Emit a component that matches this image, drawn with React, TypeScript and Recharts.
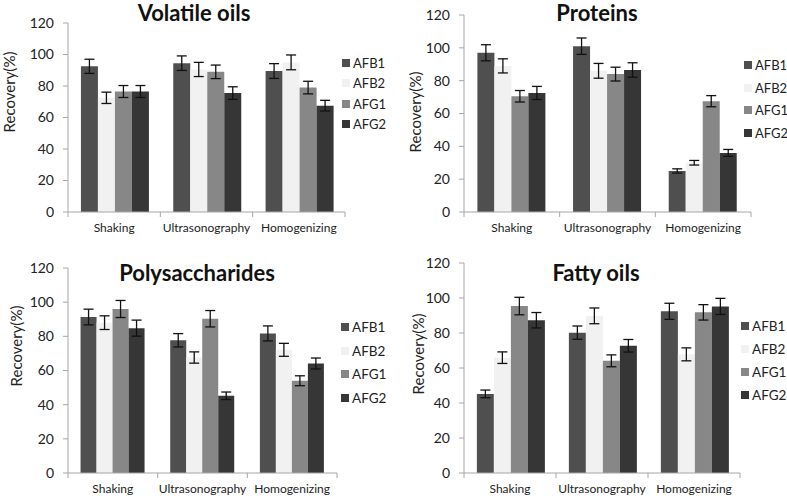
import { BarChart, Bar, XAxis, YAxis, ErrorBar } from 'recharts'

const methods = ['Shaking', 'Ultrasonography', 'Homogenizing']
const series = ['AFB1', 'AFB2', 'AFG1', 'AFG2']
const colors = ['#4f4f4f', '#f1f1f1', '#878787', '#363636']
const yTicks = [0, 20, 40, 60, 80, 100, 120]

// rows = method, columns = AFB1, AFB2, AFG1, AFG2
const volatileMeans = [[92.5, 72.5, 76.5, 76.5], [94.5, 90.5, 89, 75.5], [89.5, 95, 79, 67.5]]
const volatileErr = [[4.5, 3.6, 3.8, 3.8], [4.6, 4.5, 4.3, 4], [4.7, 4.7, 4, 3.4]]
const proteinMeans = [[97, 89, 70.5, 72.5], [101, 86, 84, 86.5], [25, 30, 67.5, 36]]
const proteinErr = [[4.9, 4.3, 3.5, 4], [5, 4.5, 4.2, 4.4], [1.3, 1.4, 3.4, 2.1]]
const polyMeans = [[91.3, 88, 96, 84.8], [77.7, 67.6, 90.3, 45.2], [81.7, 72.1, 54, 64.1]]
const polyErr = [[4.6, 4, 5, 4.7], [3.9, 3.3, 4.8, 2.2], [4.4, 3.8, 2.9, 3.2]]
const fattyMeans = [[45.2, 65.9, 95.4, 87.3], [80.2, 89.8, 64.1, 72.7], [92.4, 67.8, 91.8, 95.2]]
const fattyErr = [[2.2, 3.3, 5, 4.4], [3.8, 4.5, 3.4, 3.6], [4.6, 3.7, 4.4, 4.6]]

const FONT = 'Lato, "Open Sans", sans-serif'
const AXIS = '#a6a6a6'

function toRows(means: number[][], errs: number[][]) {
  return methods.map((m, i) => {
    const row: Record<string, string | number> = { method: m }
    series.forEach((s, j) => {
      row[s] = means[i][j]
      row[s + 'e'] = errs[i][j]
    })
    return row
  })
}

// legendAt: [square left, first row centre, row pitch, font size]
const panels = [
  {
    title: 'Volatile oils', means: volatileMeans, errs: volatileErr,
    left: 0, top: 0, w: 394, xh: 30,
    margin: { top: 23, right: 49, left: 28, bottom: 6 },
    titleAt: [194, 13], labelAt: [9, 92], legendAt: [342, 63, 20.3, 13],
  },
  {
    title: 'Proteins', means: proteinMeans, errs: proteinErr,
    left: 394, top: 0, w: 393, xh: 30,
    margin: { top: 15, right: 36, left: 30, bottom: 6 },
    titleAt: [597, 13], labelAt: [415, 112], legendAt: [744, 65, 22.7, 13],
  },
  {
    title: 'Polysaccharides', means: polyMeans, errs: polyErr,
    left: 0, top: 248, w: 394, xh: 23,
    margin: { top: 20, right: 57, left: 28, bottom: 0 },
    titleAt: [197, 273], labelAt: [16, 346], legendAt: [341, 327, 23.7, 13.5],
  },
  {
    title: 'Fatty oils', means: fattyMeans, errs: fattyErr,
    left: 394, top: 248, w: 393, xh: 23,
    margin: { top: 15, right: 47, left: 30, bottom: 0 },
    titleAt: [596, 273], labelAt: [418, 354], legendAt: [741, 326, 23, 13.5],
  },
]

const Y_W = 40

function makeTick(band: number) {
  return (props: any) => {
    const { x, y, payload, index } = props
    const half = band / 2
    return (
      <g>
        <line x1={x - half} x2={x - half} y1={y} y2={y + 5} stroke={AXIS} />
        {index === methods.length - 1 && (
          <line x1={x + half} x2={x + half} y1={y} y2={y + 5} stroke={AXIS} />
        )}
        <text x={x} y={y + 20} textAnchor="middle" fontSize={12} fill="#222" fontFamily={FONT}>
          {payload.value}
        </text>
      </g>
    )
  }
}

function Panel({ p }: { p: (typeof panels)[number] }) {
  const data = toRows(p.means, p.errs)
  const plotW = p.w - p.margin.left - p.margin.right - Y_W
  const band = plotW / methods.length
  return (
    <div style={{ position: 'absolute', left: p.left, top: p.top }}>
      <BarChart width={p.w} height={248} data={data} margin={p.margin} barCategoryGap="14%" barGap={0}>
        <XAxis
          dataKey="method"
          height={p.xh}
          stroke={AXIS}
          tickLine={false}
          tickSize={0}
          tickMargin={0}
          interval={0}
          tick={makeTick(band)}
        />
        <YAxis
          width={Y_W}
          domain={[0, 120]}
          ticks={yTicks}
          stroke={AXIS}
          tickSize={5}
          tickMargin={9}
          tick={{ fontSize: 14, fill: '#222', fontFamily: FONT }}
        />
        {series.map((s, i) => (
          <Bar key={s} dataKey={s} fill={colors[i]} isAnimationActive={false}>
            <ErrorBar dataKey={s + 'e'} width={5} stroke="#111" strokeWidth={1.3} direction="y" />
          </Bar>
        ))}
      </BarChart>
    </div>
  )
}

export default function App() {
  return (
    <div style={{ position: 'absolute', left: 0, top: 0, width: 787, height: 496, background: '#fff', fontFamily: FONT, overflow: 'hidden' }}>
      {panels.map((p) => (
        <Panel key={p.title} p={p} />
      ))}
      {panels.map((p) => (
        <div
          key={p.title + 't'}
          style={{
            position: 'absolute', left: p.titleAt[0] - 100, top: p.titleAt[1] - 11, width: 200,
            textAlign: 'center', fontWeight: 700, fontSize: 22, lineHeight: '22px', color: '#111',
          }}
        >
          {p.title}
        </div>
      ))}
      {panels.map((p) => (
        <div
          key={p.title + 'y'}
          style={{
            position: 'absolute', left: p.labelAt[0] - 60, top: p.labelAt[1] - 10, width: 120,
            textAlign: 'center', fontSize: 15, lineHeight: '20px', color: '#222', transform: 'rotate(-90deg)',
          }}
        >
          Recovery(%)
        </div>
      ))}
      {panels.map((p) => (
        <div
          key={p.title + 'l'}
          style={{ position: 'absolute', left: p.legendAt[0], top: p.legendAt[1] - p.legendAt[2] / 2, width: 43, whiteSpace: 'nowrap' }}
        >
          {series.map((s, i) => (
            <div key={s} style={{ height: p.legendAt[2], display: 'flex', alignItems: 'center', fontSize: p.legendAt[3], color: '#222' }}>
              <span style={{ width: 8, height: 8, flex: 'none', background: colors[i], marginRight: 3, display: 'inline-block' }} />
              {s}
            </div>
          ))}
        </div>
      ))}
    </div>
  )
}
